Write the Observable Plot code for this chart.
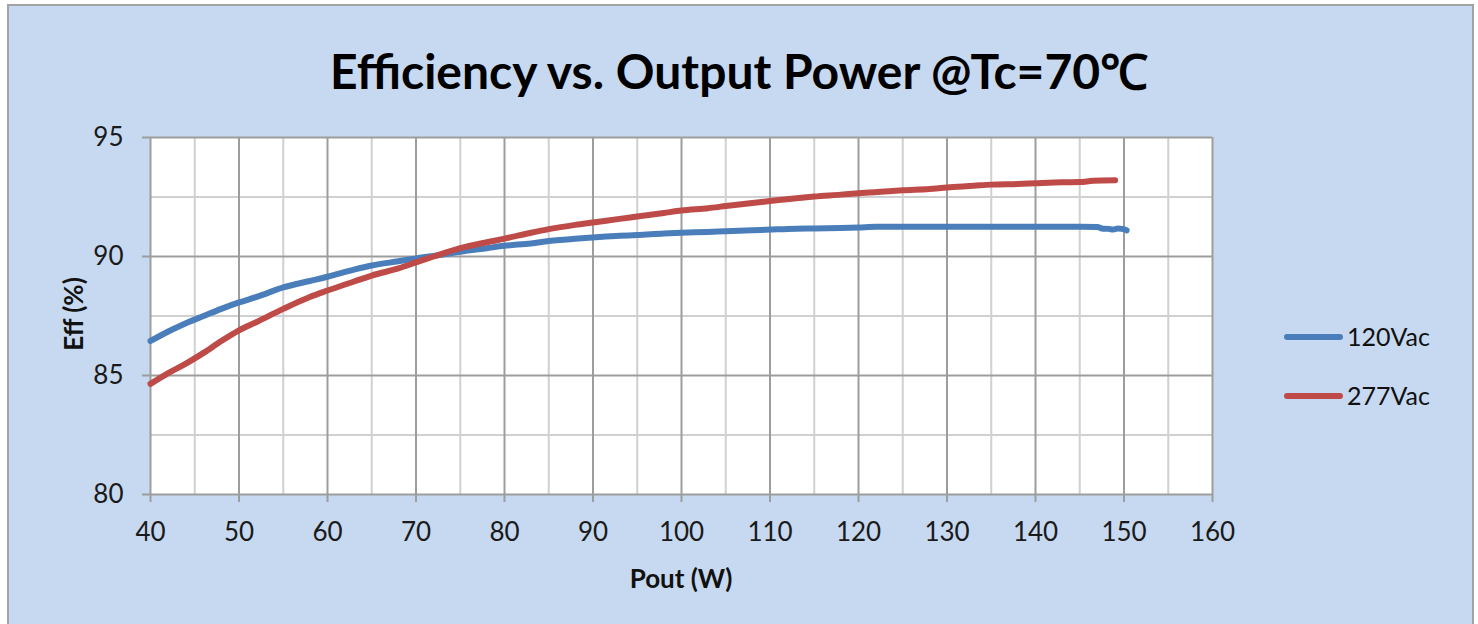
<!DOCTYPE html>
<html>
<head>
<meta charset="utf-8">
<script src="https://cdn.jsdelivr.net/npm/d3@7"></script>
<script src="https://cdn.jsdelivr.net/npm/@observablehq/plot@0.6"></script>
<style>
  html, body { margin: 0; padding: 0; background: #ffffff; overflow: hidden; }
  #wrap { position: relative; width: 1478px; height: 624px; overflow: hidden; background: #ffffff; }
  #panel { position: absolute; left: 7px; top: 4px; width: 1463px; height: 640px; background: #c6d9f0; border: 2px solid #a3a3a3; }
  #chart { position: absolute; left: 0; top: 0; }
  #title { position: absolute; left: 0; width: 1478px; top: 47px; text-align: center; font-family: Lato, sans-serif; font-weight: 700; font-size: 48px; color: #000; line-height: 1; }
  .axlab { position: absolute; font-family: Lato, sans-serif; font-weight: 700; font-size: 26px; color: #111; line-height: 1; white-space: nowrap; }
  #xlab { left: 0; width: 1362px; text-align: center; top: 565px; }
  #ylab { left: 73px; top: 314px; transform: translate(-50%, -50%) rotate(-90deg); }
  .leg { position: absolute; font-family: Lato, sans-serif; font-size: 25px; color: #111; line-height: 1; white-space: nowrap; }
  .sw { position: absolute; width: 59px; height: 6px; border-radius: 3px; }
</style>
</head>
<body>
<div id="wrap">
  <div id="panel"></div>
  <div id="chart"></div>
  <div id="title">Efficiency vs. Output Power @Tc=70℃</div>
  <div id="xlab" class="axlab">Pout (W)</div>
  <div id="ylab" class="axlab">Eff (%)</div>
  <div id="legend"></div>
</div>
<script>
// ---- data ----
const series = ["120Vac", "277Vac"];
const colors = ["#4a7ebb", "#be4b48"];

const pout120 = [40, 42, 44, 46, 48, 50, 52, 55, 58, 60, 63, 65, 68, 70, 73, 75, 78, 80, 83, 85, 88, 90, 93, 95, 98, 100, 103, 105, 108, 110, 113, 115, 118, 120, 122, 125, 130, 135, 140, 145, 147, 147.5, 148.3, 148.8, 149.3, 149.8, 150.3];
const eff120  = [86.45, 86.85, 87.2, 87.5, 87.8, 88.07, 88.3, 88.7, 88.97, 89.15, 89.45, 89.62, 89.8, 89.92, 90.08, 90.2, 90.35, 90.45, 90.55, 90.65, 90.75, 90.8, 90.87, 90.9, 90.97, 91.0, 91.03, 91.06, 91.1, 91.13, 91.17, 91.18, 91.2, 91.22, 91.25, 91.25, 91.25, 91.25, 91.25, 91.25, 91.24, 91.18, 91.16, 91.13, 91.18, 91.16, 91.1];

const pout277 = [40, 42, 44, 46, 48, 50, 52, 55, 58, 60, 63, 65, 68, 70, 72, 75, 78, 80, 83, 85, 88, 90, 93, 95, 98, 100, 103, 105, 108, 110, 113, 115, 118, 120, 123, 125, 128, 130, 133, 135, 138, 140, 143, 145, 146.5, 149];
const eff277  = [84.65, 85.1, 85.5, 85.95, 86.45, 86.9, 87.25, 87.8, 88.3, 88.57, 88.95, 89.2, 89.5, 89.75, 90.0, 90.35, 90.6, 90.75, 91.0, 91.15, 91.33, 91.43, 91.58, 91.68, 91.83, 91.93, 92.03, 92.12, 92.25, 92.33, 92.45, 92.52, 92.6, 92.66, 92.73, 92.78, 92.84, 92.9, 92.97, 93.02, 93.05, 93.08, 93.12, 93.13, 93.18, 93.2];

const xTicks = [40, 50, 60, 70, 80, 90, 100, 110, 120, 130, 140, 150, 160];
const xMinor = [45, 55, 65, 75, 85, 95, 105, 115, 125, 135, 145, 155];
const yTicks = [80, 85, 90, 95];
const yMinor = [82.5, 87.5, 92.5];

// ---- build table ----
const rows = [
  ...pout120.map((p, i) => ({series: series[0], pout: p, eff: eff120[i]})),
  ...pout277.map((p, i) => ({series: series[1], pout: p, eff: eff277[i]}))
];

const majorC = "#9d9d9d", minorC = "#d0d0d0";

const chart = Plot.plot({
  width: 1478,
  height: 624,
  marginLeft: 150,
  marginRight: 266,
  marginTop: 137,
  marginBottom: 130,
  x: {domain: [40, 160]},
  y: {domain: [80, 95]},
  color: {domain: series, range: colors},
  style: {background: "transparent", fontFamily: "Lato, sans-serif", fontSize: "26px", color: "#1a1a1a", overflow: "visible"},
  marks: [
    Plot.frame({fill: "#ffffff", stroke: null}),
    Plot.ruleX(xMinor, {stroke: minorC, strokeWidth: 2}),
    Plot.ruleY(yMinor, {stroke: minorC, strokeWidth: 2}),
    Plot.ruleX(xTicks, {stroke: majorC, strokeWidth: 2}),
    Plot.ruleY(yTicks, {stroke: majorC, strokeWidth: 2}),
    Plot.axisX({ticks: xTicks, tickSize: 8, tickPadding: 20, stroke: majorC, strokeWidth: 2, fill: "#1a1a1a", label: null, tickFormat: d => String(d)}),
    Plot.axisY({ticks: yTicks, tickSize: 8, tickPadding: 19, stroke: majorC, strokeWidth: 2, fill: "#1a1a1a", label: null, tickFormat: d => String(d)}),
    Plot.line(rows, {x: "pout", y: "eff", z: "series", stroke: "series", strokeWidth: 6, strokeLinecap: "round", strokeLinejoin: "round", curve: "monotone-x"})
  ]
});
document.getElementById("chart").appendChild(chart);

// ---- legend ----
const leg = document.getElementById("legend");
const legY = [337, 396];
series.forEach((s, i) => {
  const sw = document.createElement("div");
  sw.className = "sw";
  sw.style.left = "1284px";
  sw.style.top = (legY[i] - 3) + "px";
  sw.style.background = colors[i];
  leg.appendChild(sw);
  const t = document.createElement("div");
  t.className = "leg";
  t.style.left = "1347px";
  t.style.top = (legY[i] - 13) + "px";
  t.textContent = s;
  leg.appendChild(t);
});
</script>
</body>
</html>
